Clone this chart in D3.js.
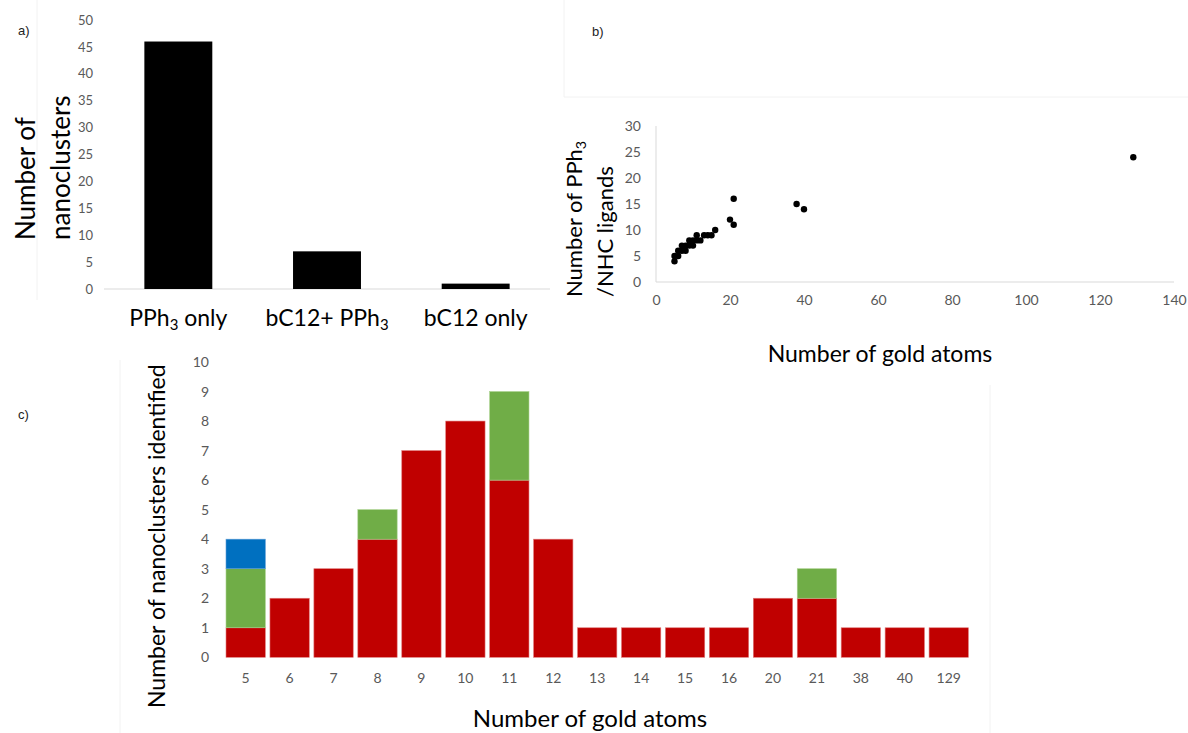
<!DOCTYPE html>
<html><head><meta charset="utf-8">
<script src="https://cdn.jsdelivr.net/npm/d3@7"></script>
<style>
body{margin:0;background:#fff;}
svg{display:block;}
text{font-family:Lato, "Open Sans", sans-serif;}
</style></head>
<body>
<svg id="c" width="1188" height="733"></svg>
<script>
// ---- Panel a data
const aCategories = ["PPh3 only", "bC12+ PPh3", "bC12 only"];
const aValues = [46, 7, 1];
const aTicks = [0,5,10,15,20,25,30,35,40,45,50];

// ---- Panel b data (gold atoms vs. number of PPh3/NHC ligands)
const bGold =    [5,5,6,6,7,7,8,8,9,9,10,10,11,11,12,13,14,15,16,20,21,21,38,40,129];
const bLigands = [4,5,5,6,6,7,6,7,7,8,7, 8, 8, 9, 8, 9, 9, 9, 10,12,11,16,15,14,24];
const bXTicks = [0,20,40,60,80,100,120,140];
const bYTicks = [0,5,10,15,20,25,30];

// ---- Panel c data (stacked)
const cCategories = ["5","6","7","8","9","10","11","12","13","14","15","16","20","21","38","40","129"];
const cRed   = [1,2,3,4,7,8,6,4,1,1,1,1,2,2,1,1,1];
const cGreen = [2,0,0,1,0,0,3,0,0,0,0,0,0,1,0,0,0];
const cBlue  = [1,0,0,0,0,0,0,0,0,0,0,0,0,0,0,0,0];
const cYTicks = [0,1,2,3,4,5,6,7,8,9,10];

const svg = d3.select("#c");
const tickColor = "#595959", axisColor = "#d9d9d9", faint = "#f2f2f2";

// faint frame lines
[[120,360,120,733],[990,385,990,733],[37,0,37,300],[564,0,564,97],[564,97,1188,97]].forEach(l=>{
  svg.append("line").attr("x1",l[0]).attr("y1",l[1]).attr("x2",l[2]).attr("y2",l[3])
    .attr("stroke",faint).attr("stroke-width",1);
});

function panelLabel(t,x,y){
  svg.append("text").attr("x",x).attr("y",y).text(t)
    .style("font-family","'Liberation Sans', Arial, sans-serif").style("font-size","13px").attr("fill","#222");
}
panelLabel("a)",18,35);
panelLabel("b)",592,36);
panelLabel("c)",18,419);

function subLabel(sel, text){
  // render "PPh3" with subscript 3
  const idx = text.indexOf("PPh3");
  if(idx < 0){ sel.text(text); return; }
  const before = text.slice(0, idx), after = text.slice(idx + 4);
  if(before) sel.append("tspan").text(before);
  sel.append("tspan").text("PPh");
  sel.append("tspan").text("3").attr("dy","0.3em").style("font-size","0.65em");
  if(after) sel.append("tspan").text(after).attr("dy","-0.2em");
}

// ================= Panel a =================
{
  const x = d3.scaleBand().domain(aCategories).range([104,550]).paddingInner(0.543).paddingOuter(0.2715);
  const y = d3.scaleLinear().domain([0,50]).range([289,20]);
  const g = svg.append("g");
  g.append("line").attr("x1",104).attr("x2",550).attr("y1",y(0)).attr("y2",y(0)).attr("stroke",axisColor);
  const yAxis = d3.axisLeft(y).tickValues(aTicks).tickSize(0).tickPadding(0);
  const ya = g.append("g").attr("transform","translate(93,0)").call(yAxis);
  ya.select(".domain").remove();
  ya.selectAll("text").attr("fill",tickColor).style("font-size","13px").style("font-family","Lato");
  g.selectAll("rect.a").data(aValues).join("rect")
    .attr("x",(d,i)=>x(aCategories[i])).attr("width",x.bandwidth())
    .attr("y",d=>y(d)).attr("height",d=>y(0)-y(d)).attr("fill","#000");
  aCategories.forEach(c=>{
    const t = g.append("text").attr("x",x(c)+x.bandwidth()/2).attr("y",326)
      .attr("text-anchor","middle").style("font-size","23px").attr("fill","#000");
    subLabel(t,c);
  });
  const yt = g.append("text").attr("transform","translate(35,240) rotate(-90)")
    .style("font-size","26px").attr("fill","#000");
  yt.append("tspan").attr("x",0).attr("y",0).text("Number of");
  yt.append("tspan").attr("x",0).attr("y",35).text("nanoclusters");
}

// ================= Panel b =================
{
  const x = d3.scaleLinear().domain([0,140]).range([656,1174]);
  const y = d3.scaleLinear().domain([0,30]).range([282,126]);
  const g = svg.append("g");
  g.append("line").attr("x1",x(0)).attr("x2",x(140)).attr("y1",y(0)).attr("y2",y(0)).attr("stroke",axisColor);
  g.append("line").attr("x1",x(0)).attr("x2",x(0)).attr("y1",y(0)).attr("y2",y(30)).attr("stroke",axisColor);
  const xa = g.append("g").attr("transform",`translate(0,${y(0)+13})`)
    .call(d3.axisBottom(x).tickValues(bXTicks).tickSize(0).tickPadding(0));
  xa.select(".domain").remove();
  xa.selectAll("text").attr("fill",tickColor).style("font-size","14px").style("font-family","Lato");
  const ya = g.append("g").attr("transform",`translate(${x(0)-15},0)`)
    .call(d3.axisLeft(y).tickValues(bYTicks).tickSize(0).tickPadding(0));
  ya.select(".domain").remove();
  ya.selectAll("text").attr("fill",tickColor).style("font-size","14px").style("font-family","Lato");
  g.selectAll("circle").data(bGold).join("circle")
    .attr("cx",d=>x(d)).attr("cy",(d,i)=>y(bLigands[i])).attr("r",3.2).attr("fill","#000");
  g.append("text").attr("x",880).attr("y",362).attr("text-anchor","middle")
    .style("font-size","23px").attr("fill","#000").text("Number of gold atoms");
  const yt = g.append("text").attr("transform","translate(582,297) rotate(-90)")
    .style("font-size","22px").attr("fill","#000");
  yt.append("tspan").attr("x",0).attr("y",0).text("Number of PPh");
  yt.append("tspan").text("3").attr("dy","0.3em").style("font-size","0.65em");
  yt.append("tspan").attr("x",0).attr("y",31).text("/NHC ligands");
}

// ================= Panel c =================
{
  const x = d3.scaleBand().domain(cCategories).range([223.7,970.7]).paddingInner(0.105).paddingOuter(0.0525);
  const y = d3.scaleLinear().domain([0,10]).range([657.3,362]);
  const g = svg.append("g");
  const ya = g.append("g").attr("transform","translate(209,0)")
    .call(d3.axisLeft(y).tickValues(cYTicks).tickSize(0).tickPadding(0));
  ya.select(".domain").remove();
  ya.selectAll("text").attr("fill",tickColor).style("font-size","14px").style("font-family","Lato");
  const xa = g.append("g").attr("transform",`translate(0,${y(0)+16})`)
    .call(d3.axisBottom(x).tickSize(0).tickPadding(0));
  xa.select(".domain").remove();
  xa.selectAll("text").attr("fill",tickColor).style("font-size","14px").style("font-family","Lato");

  const rows = cCategories.map((c,i)=>({cat:c, red:cRed[i], green:cGreen[i], blue:cBlue[i]}));
  const stack = d3.stack().keys(["red","green","blue"])(rows);
  const colors = {red:"#C00000", green:"#70AD47", blue:"#0070C0"};
  const strokes = {red:"#e07a7a", green:"#a9d18e", blue:"#5b9bd5"};
  stack.forEach(layer=>{
    g.append("g").selectAll("rect").data(layer.filter(d=>d[1]>d[0])).join("rect")
      .attr("x",d=>x(d.data.cat)).attr("width",x.bandwidth())
      .attr("y",d=>y(d[1])).attr("height",d=>y(d[0])-y(d[1]))
      .attr("fill",colors[layer.key]).attr("stroke",strokes[layer.key]).attr("stroke-width",0.6);
  });
  g.append("text").attr("x",590).attr("y",727).attr("text-anchor","middle")
    .style("font-size","24px").attr("fill","#000").text("Number of gold atoms");
  g.append("text").attr("transform","translate(165,708) rotate(-90)")
    .style("font-size","23px").attr("fill","#000").text("Number of nanoclusters identified");
}
</script>
</body></html>
